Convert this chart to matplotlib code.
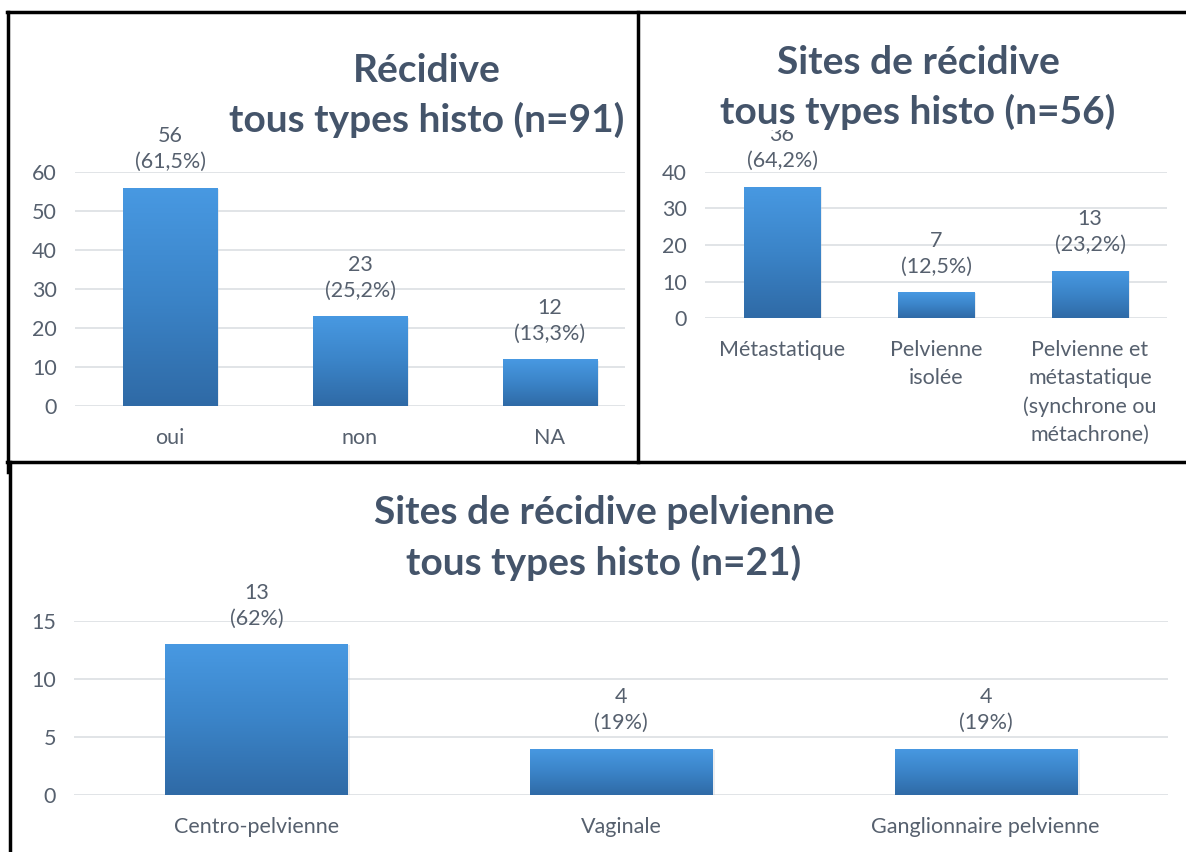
import matplotlib.pyplot as plt
import numpy as np
from matplotlib.colors import LinearSegmentedColormap
from matplotlib.lines import Line2D

plt.rcParams['font.family'] = ['Lato', 'DejaVu Sans']

# data
cat1 = ['oui', 'non', 'NA']
val1 = [56, 23, 12]
lab1 = ['56\n(61,5%)', '23\n(25,2%)', '12\n(13,3%)']

cat2 = ['Métastatique', 'Pelvienne\nisolée', 'Pelvienne et\nmétastatique\n(synchrone ou\nmétachrone)']
val2 = [36, 7, 13]
lab2 = ['36\n(64,2%)', '7\n(12,5%)', '13\n(23,2%)']

cat3 = ['Centro-pelvienne', 'Vaginale', 'Ganglionnaire pelvienne']
val3 = [13, 4, 4]
lab3 = ['13\n(62%)', '4\n(19%)', '4\n(19%)']

W, H = 1186, 852
fig = plt.figure(figsize=(W / 100, H / 100), dpi=100)

title_color = '#44546a'
text_color = '#56606e'
grad = LinearSegmentedColormap.from_list('g', ['#2f6aa6', '#3b84c8', '#4899e2'])


def px_rect(x0, y0, x1, y1):
    return [x0 / W, 1 - y1 / H, (x1 - x0) / W, (y1 - y0) / H]


def draw_panel(box, cats, vals, labels, ymax, ystep, xmax):
    ax = fig.add_axes(px_rect(*box))
    x = np.arange(len(cats))
    bars = ax.bar(x, vals, width=0.5, color='#3b84c8', zorder=2)
    g = np.linspace(0, 1, 256).reshape(-1, 1)
    for b in bars:
        x0, w, h = b.get_x(), b.get_width(), b.get_height()
        # soft shadow
        ax.bar(x0 + w / 2 + 0.008, h, width=w, bottom=-ymax * 0.006,
               color='#c9ccd2', zorder=1, alpha=0.35)
        im = ax.imshow(g, extent=[x0, x0 + w, 0, h], aspect='auto',
                       cmap=grad, origin='lower', zorder=3)
        im.set_clip_path(b)
    for xi, v, t in zip(x, vals, labels):
        ax.annotate(t, (xi, v), xytext=(0, 11), textcoords='offset points',
                    ha='center', va='bottom', fontsize=15.5,
                    color=text_color, linespacing=1.4, zorder=1)
    ax.set_xlim(-0.5, xmax)
    ax.set_ylim(0, ymax)
    ax.set_yticks(np.arange(0, ymax + 0.1, ystep))
    ax.set_xticks(x)
    ax.set_xticklabels(cats, va='top', linespacing=1.5)
    ax.grid(axis='y', color='#dcdfe3', linewidth=1.2, zorder=0)
    ax.set_axisbelow(True)
    for s in ax.spines.values():
        s.set_visible(False)
    ax.tick_params(axis='both', length=0, labelsize=15.5, colors=text_color)
    ax.tick_params(axis='y', pad=13)
    ax.tick_params(axis='x', pad=16)
    ax.set_facecolor('none')
    return ax


draw_panel((75, 172, 625, 406), cat1, val1, lab1, 60, 10, 2.5 - 20 / 190)
draw_panel((705, 172, 1167, 318), cat2, val2, lab2, 40, 10, 2.5)
draw_panel((74, 621, 1168, 795), cat3, val3, lab3, 15, 5, 2.5)

tkw = dict(ha='center', va='center', fontsize=28, fontweight='bold',
           color=title_color, zorder=10)
fig.text(427 / W, 1 - 70 / H, 'Récidive', **tkw)
fig.text(427 / W, 1 - 120 / H, 'tous types histo (n=91)', **tkw)
fig.text(918 / W, 1 - 62 / H, 'Sites de récidive', **tkw)
fig.text(918 / W, 1 - 112 / H, 'tous types histo (n=56)',
         bbox=dict(facecolor='white', edgecolor='none', pad=0), **tkw)
fig.text(604 / W, 1 - 513 / H, 'Sites de récidive pelvienne', **tkw)
fig.text(604 / W, 1 - 563 / H, 'tous types histo (n=21)', **tkw)

# panel borders
def hline(y, x0, x1):
    fig.add_artist(Line2D([x0 / W, x1 / W], [1 - y / H, 1 - y / H], color='black', lw=2.5))


def vline(x, y0, y1):
    fig.add_artist(Line2D([x / W, x / W], [1 - y0 / H, 1 - y1 / H], color='black', lw=2.5))


hline(12, 7, 1186)
vline(8, 12, 472)
vline(638, 12, 462)
hline(462, 7, 1186)
vline(10, 462, 852)

fig.savefig('out.png', dpi=100)
